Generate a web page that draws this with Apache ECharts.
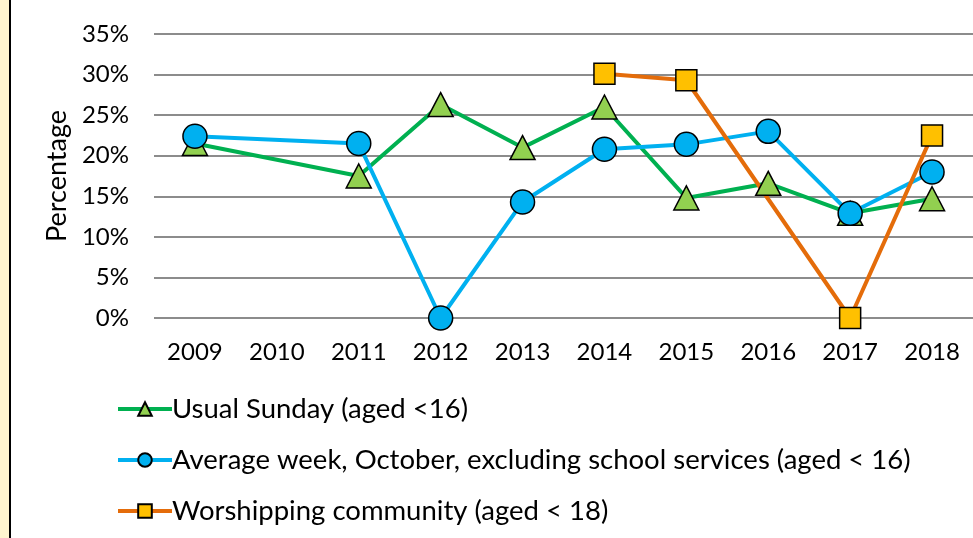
<!DOCTYPE html>
<html>
<head>
<meta charset="utf-8">
<script src="https://cdn.jsdelivr.net/npm/echarts@6/dist/echarts.min.js"></script>
<style>
  html, body { margin: 0; padding: 0; background: #fff; }
  #main { width: 973px; height: 538px; }
</style>
</head>
<body>
<div id="main"></div>
<script>
// categories and values
var years = ['2009', '2010', '2011', '2012', '2013', '2014', '2015', '2016', '2017', '2018']
var usualSunday = [21.5, null, 17.5, 26.3, 21.0, 26.0, 14.8, 16.6, 12.9, 14.7]
var averageWeek = [22.4, null, 21.5, 0, 14.3, 20.8, 21.4, 23.0, 12.9, 18.0]
var worshipping = [null, null, null, null, null, 30.1, 29.3, null, 0, 22.5]
var seriesNames = [
  'Usual Sunday (aged <16)',
  'Average week, October, excluding school services (aged < 16)',
  'Worshipping community (aged < 18)'
]

var font = 'Lato, "DejaVu Sans", sans-serif'
var chart = echarts.init(document.getElementById('main'))

var option = {
  backgroundColor: '#ffffff',
  animation: false,
  textStyle: { fontFamily: font, color: '#000' },
  graphic: [
    { type: 'rect', shape: { x: 0, y: 0, width: 9, height: 538 }, style: { fill: '#fff5cf' } },
    { type: 'rect', shape: { x: 9, y: 0, width: 2, height: 538 }, style: { fill: '#000' } }
  ],
  grid: { left: 154, right: -4, top: 34, bottom: 220 },
  legend: {
    orient: 'vertical',
    left: 111,
    top: 390,
    itemWidth: 54,
    itemHeight: 17,
    itemGap: 23,
    lineStyle: { width: 4 },
    textStyle: { fontSize: 27.5, fontFamily: font, color: '#000', padding: [0, 0, 0, -5] },
    data: seriesNames
  },
  xAxis: {
    type: 'category',
    data: years,
    axisLine: { show: false },
    axisTick: { show: false },
    axisLabel: { fontSize: 24, color: '#000', margin: 22 }
  },
  yAxis: {
    type: 'value',
    min: 0,
    max: 35,
    interval: 5,
    name: 'Percentage',
    nameLocation: 'middle',
    nameGap: 74,
    nameRotate: 90,
    nameTextStyle: { fontSize: 27, color: '#000' },
    axisLine: { show: false },
    axisTick: { show: false },
    axisLabel: { fontSize: 24, color: '#000', margin: 25, formatter: '{value}%' },
    splitLine: { lineStyle: { color: '#8c8c8c', width: 2 } }
  },
  series: [
    {
      name: seriesNames[0],
      type: 'line',
      data: usualSunday,
      symbol: 'triangle',
      symbolSize: [25, 24],
      connectNulls: true,
      lineStyle: { color: '#00b050', width: 4 },
      itemStyle: { color: '#92d050', borderColor: '#000', borderWidth: 1.5 }
    },
    {
      name: seriesNames[1],
      type: 'line',
      data: averageWeek,
      symbol: 'circle',
      symbolSize: 24,
      connectNulls: true,
      lineStyle: { color: '#00b0f0', width: 4 },
      itemStyle: { color: '#00b0f0', borderColor: '#000', borderWidth: 1.5 }
    },
    {
      name: seriesNames[2],
      type: 'line',
      data: worshipping,
      symbol: 'rect',
      symbolSize: 21,
      connectNulls: true,
      lineStyle: { color: '#e46c0a', width: 4 },
      itemStyle: { color: '#ffc000', borderColor: '#000', borderWidth: 1.5 }
    }
  ]
}

chart.setOption(option)
</script>
</body>
</html>
